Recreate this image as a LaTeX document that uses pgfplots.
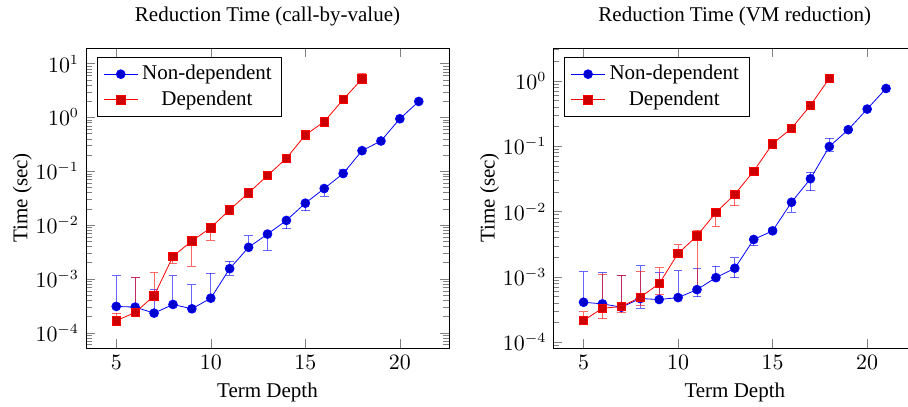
\documentclass[border=0pt]{standalone}
\usepackage{fontspec}
\setmainfont{Liberation Serif}
\usepackage{pgfplots}
\usepackage{pgfplotstable}
\pgfplotsset{compat=1.18}

% columns: depth, mean time, error above, error below (0 = not drawn)
\pgfplotstableread{
x  y        ep       em
5  3.08e-4  8.32e-4  0
6  2.99e-4  7.71e-4  0
7  2.31e-4  3.94e-4  0
8  3.35e-4  8.05e-4  0
9  2.78e-4  5.07e-4  0
10 4.38e-4  8.32e-4  0
11 1.55e-3  5.7e-4   3.8e-4
12 3.86e-3  2.48e-3  0
13 6.8e-3   0        3.36e-3
14 1.22e-2  0        3.65e-3
15 2.55e-2  0        7.1e-3
16 4.77e-2  0        1.33e-2
17 9.06e-2  1.64e-2  0
18 0.241    0        0
19 0.365    0        0
20 0.944    0        0
21 1.98     0        0
}\cbvnondep
\pgfplotstableread{
x  y        ep       em
5  1.67e-4  6.1e-5   0
6  2.38e-4  8.32e-4  0
7  4.84e-4  8.26e-4  0
8  2.63e-3  0        6.8e-4
9  5.06e-3  0        3.34e-3
10 8.93e-3  0        3.66e-3
11 1.92e-2  2.7e-3   2.5e-3
12 3.97e-2  0        0
13 8.32e-2  0        0
14 0.174    0        0
15 0.471    0        0
16 0.832    0        0
17 2.15     0        0
18 5.2      1.42     0
}\cbvdep
\pgfplotstableread{
x  y        ep       em
5  4.11e-4  8.0e-4   0
6  3.88e-4  7.7e-4   0
7  3.45e-4  7.1e-4   0
8  4.68e-4  1.02e-3  1.38e-4
9  4.52e-4  7.1e-4   0
10 4.84e-4  7.7e-4   0
11 6.41e-4  7.0e-4   1.45e-4
12 9.77e-4  4.7e-4   0
13 1.36e-3  6.1e-4   3.8e-4
14 3.75e-3  0        7.2e-4
15 5.08e-3  5.2e-4   0
16 1.39e-2  0        4.1e-3
17 3.18e-2  8.4e-3   1.09e-2
18 9.89e-2  0.035    0.016
19 0.179    0        0
20 0.37     0        0
21 0.764    0        0
}\vmnondep
\pgfplotstableread{
x  y        ep       em
5  2.16e-4  7.7e-5   0
6  3.33e-4  7.8e-4   1.04e-4
7  3.53e-4  7.1e-4   6.7e-5
8  4.9e-4   7.2e-4   1.2e-4
9  7.91e-4  6.0e-4   2.46e-4
10 2.29e-3  8.1e-4   0
11 4.26e-3  9.4e-4   3.6e-3
12 9.66e-3  0        3.68e-3
13 1.84e-2  0        6.1e-3
14 4.16e-2  0        0
15 0.109    0        0
16 0.188    0        0
17 0.421    0        0
18 1.09     0.14     0
}\vmdep

\begin{document}
\begin{tikzpicture}[font=\fontsize{10.5}{12.6}\selectfont]
  \begin{axis}[
      scale only axis,
      width=181.5pt, height=150pt,
      ymode=log,
      xmin=3.4, xmax=22.6,
      ymin=5.2e-5, ymax=19.5,
      xtick={5,10,15,20},
      xlabel={Term Depth},
      ylabel={Time (sec)},
      ylabel shift=-5pt,
      title={Reduction Time (call-by-value)},
      title style={yshift=1.5pt},
      legend pos=north west,
      legend cell align=center,
    ]
    \addplot[blue, mark=*, mark size=2.2pt, mark options={fill=blue!80!black},
      error bars/.cd, y dir=both, y explicit,
      error bar style={opacity=0.6, line width=0.5pt},
      error mark options={blue, rotate=90, mark size=2.2pt}]
      table[x=x, y=y, y error plus=ep, y error minus=em] {\cbvnondep};
    \addplot[red, mark=square*, mark size=2.1pt, mark options={fill=red!80!black},
      error bars/.cd, y dir=both, y explicit,
      error bar style={opacity=0.6, line width=0.5pt},
      error mark options={red, rotate=90, mark size=2.2pt}]
      table[x=x, y=y, y error plus=ep, y error minus=em] {\cbvdep};
    \legend{Non-dependent, Dependent}
  \end{axis}
  \begin{axis}[
      at={(233.65pt,0pt)},
      scale only axis,
      width=181.5pt, height=150pt,
      ymode=log,
      xmin=3.4, xmax=22.6,
      ymin=8.2e-5, ymax=3.18,
      xtick={5,10,15,20},
      xlabel={Term Depth},
      ylabel={Time (sec)},
      ylabel shift=-5pt,
      title={Reduction Time (VM reduction)},
      title style={yshift=1.5pt},
      legend pos=north west,
      legend cell align=center,
    ]
    \addplot[blue, mark=*, mark size=2.2pt, mark options={fill=blue!80!black},
      error bars/.cd, y dir=both, y explicit,
      error bar style={opacity=0.6, line width=0.5pt},
      error mark options={blue, rotate=90, mark size=2.2pt}]
      table[x=x, y=y, y error plus=ep, y error minus=em] {\vmnondep};
    \addplot[red, mark=square*, mark size=2.1pt, mark options={fill=red!80!black},
      error bars/.cd, y dir=both, y explicit,
      error bar style={opacity=0.6, line width=0.5pt},
      error mark options={red, rotate=90, mark size=2.2pt}]
      table[x=x, y=y, y error plus=ep, y error minus=em] {\vmdep};
    \legend{Non-dependent, Dependent}
  \end{axis}
  \pgfresetboundingbox
  \useasboundingbox (-43pt,-29pt) rectangle (411pt,174pt);
\end{tikzpicture}
\end{document}
